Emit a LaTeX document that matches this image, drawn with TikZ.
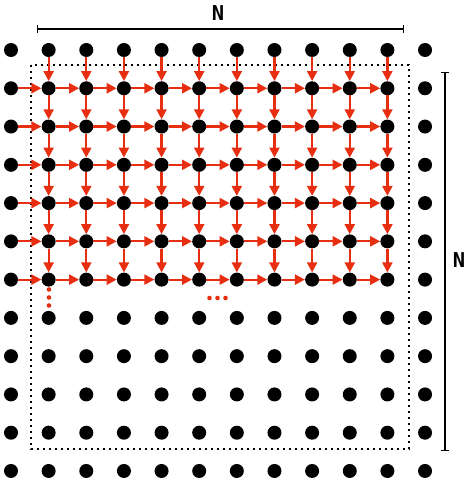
\documentclass[tikz,border=0pt]{standalone}
\usepackage{fontspec}
\newfontfamily\labfont{DejaVu Sans Mono}
\usetikzlibrary{arrows.meta}
\definecolor{arrred}{RGB}{232,46,16}
\tikzset{
  dot/.style={circle,fill=black,draw=none,minimum size=14pt,inner sep=0pt},
  flow/.style={draw=arrred,line width=2.2pt,-{Triangle[length=10pt,width=10pt]}},
  reddot/.style={circle,fill=arrred,draw=none,minimum size=4.6pt,inner sep=0pt},
  bracket/.style={line width=1.3pt,{Bar[width=8pt]}-{Bar[width=8pt]}},
  lab/.style={font=\labfont\bfseries\fontsize{20.5}{22}\selectfont,inner sep=0pt},
  frame/.style={line width=1.6pt,dash pattern=on 1.6pt off 4.4pt}
}
\begin{document}
\begin{tikzpicture}[x=1pt,y=-1pt]
\useasboundingbox (0,0) rectangle (466,480);
% dotted frame
\coordinate (f1) at (31,65);
\coordinate (f2) at (409,449);
\draw[frame] (f1) rectangle (f2);
% dots
\foreach \i in {0,...,11}{
  \foreach \j in {0,...,11}{
    \node[dot] (d-\i-\j) at ({11+37.64*\i},{50+38.27*\j}) {};
  }
}
% horizontal arrows
\foreach \j in {1,...,6}{
  \foreach \i in {0,...,9}{
    \pgfmathtruncatemacro{\n}{\i+1}
    \draw[flow] (d-\i-\j) -- (d-\n-\j);
  }
}
% vertical arrows
\foreach \i in {1,...,10}{
  \foreach \j in {0,...,5}{
    \pgfmathtruncatemacro{\n}{\j+1}
    \draw[flow] (d-\i-\j) -- (d-\i-\n);
  }
}
% ellipses
\node[reddot] (v1) at (49,289.5) {};
\node[reddot] (v2) at (49,297.5) {};
\node[reddot] (v3) at (49,305.5) {};
\node[reddot] (h1) at (209.5,298) {};
\node[reddot] (h2) at (217.5,298) {};
\node[reddot] (h3) at (225.5,298) {};
% brackets
\coordinate (ta) at (37,29);
\coordinate (tb) at (404,29);
\draw[bracket] (ta) -- (tb);
\node[lab] (nt) at (218,13) {N};
\coordinate (ra) at (445,72);
\coordinate (rb) at (445,451);
\draw[bracket] (ra) -- (rb);
\node[lab] (nr) at (459,260) {N};
\end{tikzpicture}
\end{document}
